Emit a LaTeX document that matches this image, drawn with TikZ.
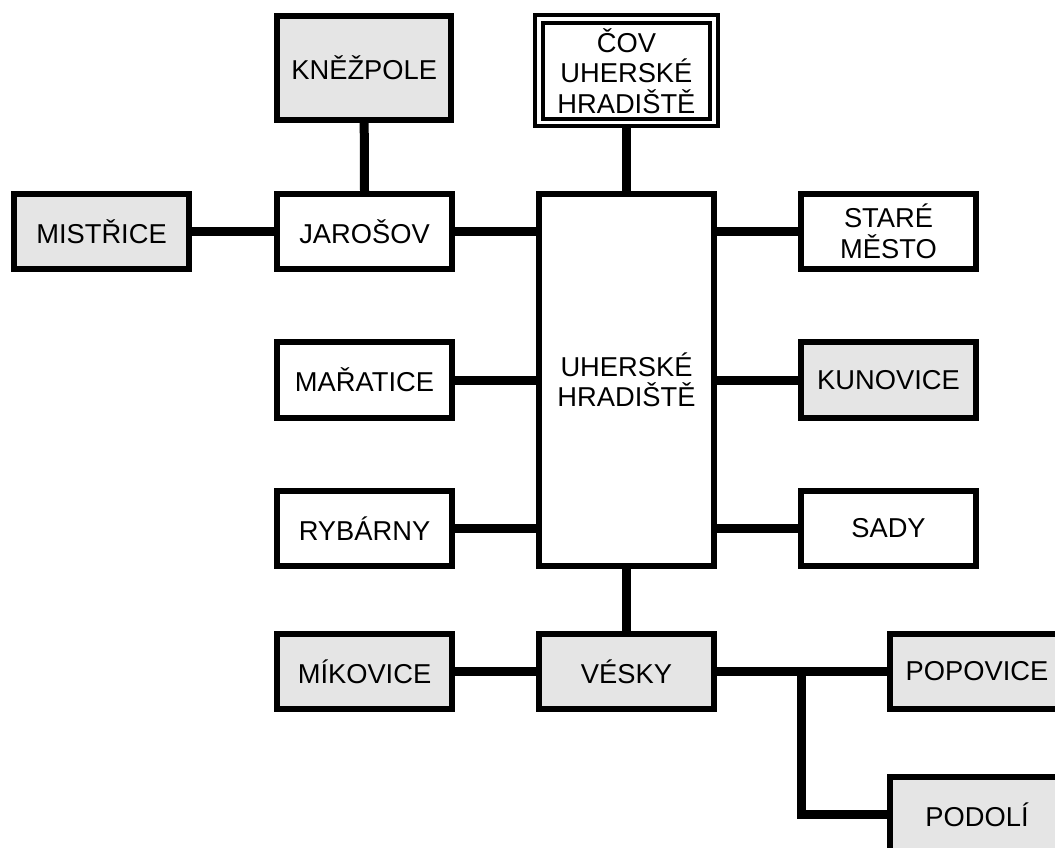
\documentclass[tikz,border=0pt]{standalone}
\usepackage{fontspec}
\setmainfont{Liberation Sans}
\usetikzlibrary{backgrounds}
\begin{document}
\begin{tikzpicture}[x=1pt,y=-1pt,
  place/.style={draw=black, line width=6pt, fill=white, inner sep=0pt,
    minimum width=175pt, minimum height=75pt, align=center,
    font=\fontsize{27.3}{30.6}\selectfont},
  shaded/.style={place, fill=black!10},
  link/.style={draw=black, line width=9pt, line join=miter}]
\useasboundingbox (0,0) rectangle (1055,847);
\begin{scope}
  \clip (0,0) rectangle (1055,847);
  % top row
  \node[shaded, minimum width=174.3pt, minimum height=103.4pt] (knezpole) at (364.2,68) {KNĚŽPOLE};
  \node[place, double=white, line width=4pt, double distance=3.7pt, outer sep=0pt,
        minimum width=174.9pt, minimum height=103.4pt] (cov) at (626.4,70.8) {ČOV\\UHERSKÉ\\HRADIŠTĚ};
  % central town
  \node[place, minimum height=371.5pt] (uh) at (626.5,379.8) {UHERSKÉ\\HRADIŠTĚ};
  % left side
  \node[shaded] (mistrice) at (101.5,231.5) {MISTŘICE};
  \node[place] (jarosov) at (364.5,231.5) {JAROŠOV};
  \node[place, minimum height=76pt] (maratice) at (364.5,380) {MAŘATICE};
  \node[place, minimum height=74.5pt] (rybarny) at (364.5,528.3) {RYBÁRNY};
  % right side
  \node[place] (stare) at (888.5,231.3) {STARÉ\\MĚSTO};
  \node[shaded, minimum height=76pt] (kunovice) at (888.5,380) {KUNOVICE};
  \node[place, minimum height=74.5pt] (sady) at (888.5,528.3) {SADY};
  % bottom row
  \node[shaded] (mikovice) at (364.5,671.3) {MÍKOVICE};
  \node[shaded] (vesky) at (626.5,671.3) {VÉSKY};
  \node[shaded] (popovice) at (977,671.3) {POPOVICE};
  \node[shaded] (podoli) at (977,814.5) {PODOLÍ};
  \coordinate (split) at (801.7,671.3);
\end{scope}
\begin{scope}[on background layer]
  \draw[link] (knezpole.south) -- (jarosov.north);
  \draw[link] (mistrice.east) -- (jarosov.west);
  \draw[link] (jarosov.east) -- (jarosov.east -| uh.west);
  \draw[link] (cov.south) -- (cov.south |- uh.north);
  \draw[link] (uh.east |- stare.west) -- (stare.west);
  \draw[link] (maratice.east) -- (maratice.east -| uh.west);
  \draw[link] (uh.east |- kunovice.west) -- (kunovice.west);
  \draw[link] (rybarny.east) -- (rybarny.east -| uh.west);
  \draw[link] (uh.east |- sady.west) -- (sady.west);
  \draw[link] (uh.south -| vesky.north) -- (vesky.north);
  \draw[link] (mikovice.east) -- (vesky.west);
  \draw[link] (vesky.east) -- (popovice.west);
  \draw[link] (split) |- (podoli.west);
\end{scope}
\end{tikzpicture}
\end{document}
